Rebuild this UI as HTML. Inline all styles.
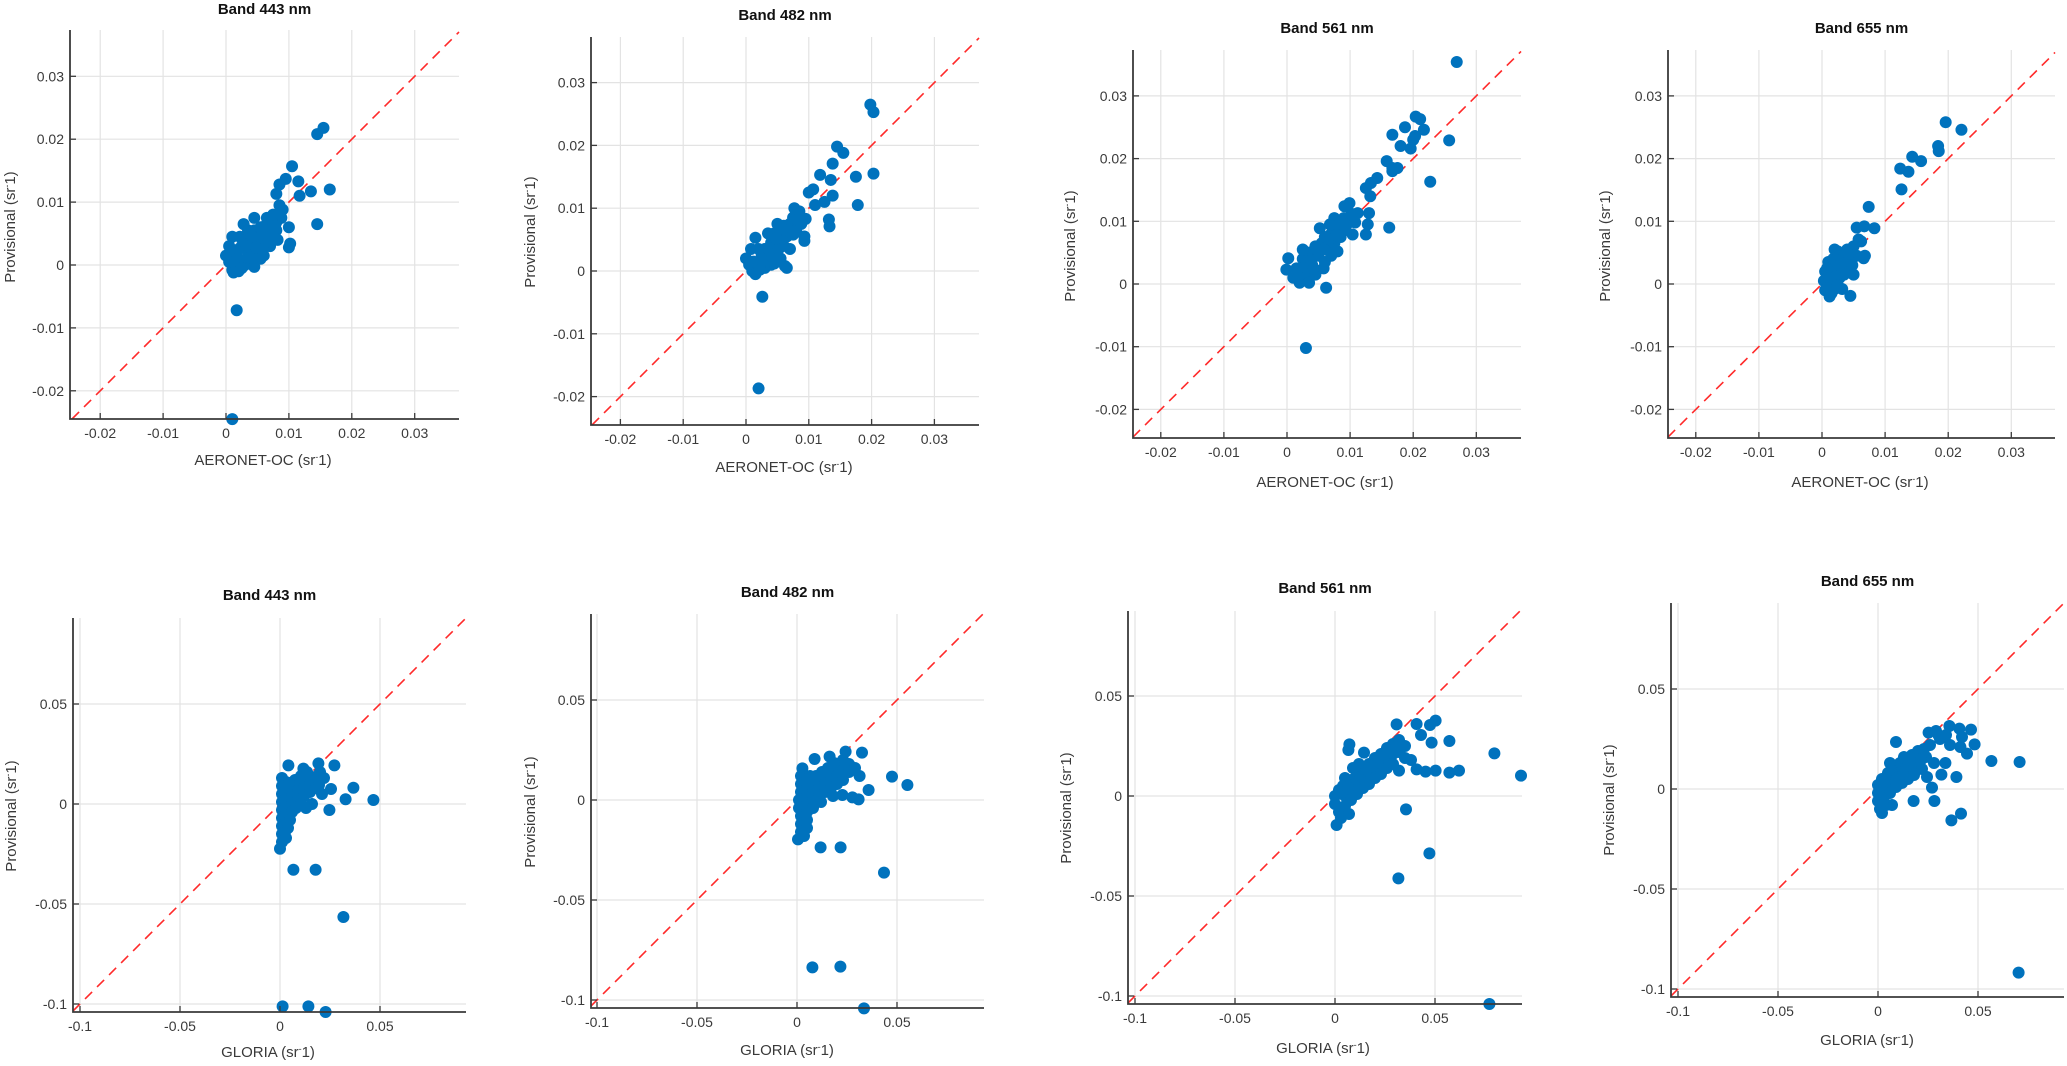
<!DOCTYPE html>
<html><head><meta charset="utf-8">
<style>
html,body{margin:0;padding:0;background:#fff;}
svg{display:block;font-family:"Liberation Sans",sans-serif;}
</style></head>
<body>
<svg id="fig" width="2067" height="1066" viewBox="0 0 2067 1066" xmlns="http://www.w3.org/2000/svg"><defs id="defs"></defs></svg>
<script>
// ---------- data ----------
const topTicks = [-0.02, -0.01, 0, 0.01, 0.02, 0.03];
const topTickLabels = ["-0.02", "-0.01", "0", "0.01", "0.02", "0.03"];
const botTicks = [-0.1, -0.05, 0, 0.05];
const botTickLabels = ["-0.1", "-0.05", "0", "0.05"];
const bandTitles = ["Band 443 nm", "Band 482 nm", "Band 561 nm", "Band 655 nm"];

const p1Points = [[0.0155,0.0218],[0.0145,0.0208],[0.0105,0.0157],[0.0095,0.0137],[0.0115,0.0133],[0.0085,0.0128],[0.0135,0.0117],[0.0165,0.012],[0.0117,0.011],[0.0145,0.0065],[0.01,0.0028],[0.0102,0.0034],[0.0017,-0.0072],[0.001,-0.0245],[0.01,0.006],[0.008,0.0113],[0.009,0.0088],
[0.000,0.0015],[0.0005,0.0005],[0.001,-0.0008],[0.0015,0.002],[0.002,-0.001],[0.002,0.001],[0.0025,0.003],[0.003,0.0],[0.003,0.0045],[0.0035,0.002],[0.004,0.0005],[0.004,0.0035],[0.0045,0.0055],[0.005,0.002],[0.005,0.0045],[0.0055,0.006],[0.006,0.0035],[0.006,0.0015],[0.0065,0.0075],[0.0065,0.005],[0.007,0.0065],[0.007,0.003],[0.0075,0.008],[0.008,0.0055],[0.008,0.0068],[0.0085,0.0095],[0.0088,0.0075],[0.0045,0.0075],[0.0028,0.0065],[0.001,0.0045],[0.0045,-0.0003],[0.0055,0.001],[0.0022,0.0045],[0.0082,0.004],[0.0005,0.003],[0.0015,0.0005],[0.0035,0.0055],[0.0052,0.0032],[0.0068,0.0058],[0.0075,0.0045],
[0.0012,-0.0012],[0.002,0.0025],[0.0025,-0.0005],[0.0032,0.0032],[0.0038,0.0012],[0.0042,0.0045],[0.0048,0.0028],[0.0058,0.0048],[0.0062,0.0062],[0.0072,0.0072],[0.0078,0.0062],[0.0085,0.0082],[0.0058,0.0025],[0.0068,0.0038]];

const p2Points = [[0.0198,0.0265],[0.0203,0.0253],[0.0145,0.0198],[0.0155,0.0188],[0.0138,0.0171],[0.0118,0.0153],[0.0135,0.0145],[0.0175,0.015],[0.0203,0.0155],[0.0178,0.0105],[0.0132,0.0082],[0.0133,0.0071],[0.0093,0.0055],[0.0093,0.0048],[0.01,0.0125],[0.0107,0.013],[0.0125,0.011],[0.0138,0.012],[0.011,0.0105],[0.0095,0.0083],[0.0077,0.01],[0.0026,-0.0041],[0.002,-0.0187],[0.0008,0.0035],[0.0015,0.0053],[0.0062,0.0008],
[0.0,0.002],[0.0005,0.001],[0.001,0.0],[0.0015,-0.0005],[0.002,0.001],[0.0025,0.0025],[0.003,0.0005],[0.003,0.0035],[0.0035,0.002],[0.004,0.0045],[0.004,0.001],[0.0045,0.003],[0.0045,0.006],[0.005,0.0045],[0.005,0.0075],[0.0055,0.002],[0.0055,0.006],[0.006,0.004],[0.006,0.0072],[0.0065,0.0055],[0.007,0.0075],[0.007,0.0035],[0.0075,0.0085],[0.008,0.0065],[0.0085,0.0095],[0.0035,0.006],[0.002,0.0035],[0.0065,0.0005],[0.0045,0.0012],[0.0088,0.0075],
[0.0012,0.0015],[0.0022,0.0002],[0.0028,0.0018],[0.0038,0.0032],[0.0042,0.0022],[0.0052,0.0035],[0.0058,0.0048],[0.0068,0.0065],[0.0075,0.0058],[0.0082,0.0082],[0.0048,0.0052]];

const p3Points = [[0.0269,0.0354],[0.0204,0.0267],[0.0211,0.0263],[0.0187,0.025],[0.0217,0.0246],[0.0167,0.0238],[0.0203,0.0236],[0.02,0.023],[0.018,0.022],[0.0196,0.0216],[0.0257,0.0229],[0.0227,0.0163],[0.0158,0.0196],[0.0167,0.0185],[0.0175,0.0185],[0.0167,0.018],[0.0143,0.0169],[0.0133,0.0161],[0.0125,0.0153],[0.0132,0.014],[0.013,0.0113],[0.0162,0.009],[0.0099,0.0129],[0.0091,0.0124],[0.0112,0.0113],[0.0128,0.0095],[0.0125,0.0079],[0.0104,0.0079],[0.0075,0.0105],[0.0052,0.0089],[0.0062,-0.0006],[0.0002,0.0041],[-0.0001,0.0023],[0.003,-0.0102],
[0.001,0.001],[0.0015,0.0025],[0.002,0.0002],[0.0025,0.004],[0.003,0.0015],[0.0035,0.005],[0.0035,0.0002],[0.004,0.003],[0.0045,0.006],[0.005,0.0045],[0.0055,0.0065],[0.006,0.0035],[0.006,0.0075],[0.0065,0.006],[0.007,0.008],[0.007,0.0045],[0.0075,0.0065],[0.008,0.009],[0.008,0.0052],[0.0085,0.0075],[0.009,0.0105],[0.009,0.0085],[0.0095,0.0095],[0.0025,0.0055],[0.0058,0.0025],[0.0045,0.0015],[0.0068,0.0095],
[0.0018,0.0012],[0.0028,0.0028],[0.0038,0.0038],[0.0048,0.0055],[0.0058,0.0055],[0.0068,0.0072],[0.0078,0.0078],[0.0088,0.0095],[0.0102,0.0112],[0.0108,0.0098],[0.0042,0.0025]];

const p4Points = [[0.0196,0.0258],[0.0221,0.0246],[0.0184,0.022],[0.0185,0.0212],[0.0143,0.0203],[0.0157,0.0196],[0.0124,0.0184],[0.0137,0.0179],[0.0126,0.0151],[0.0074,0.0123],[0.0055,0.009],[0.0067,0.0092],[0.0083,0.0089],[0.0045,-0.0019],[0.0066,0.0041],[0.0058,0.0071],
[0.0003,0.0005],[0.0005,0.002],[0.0005,-0.001],[0.001,0.0035],[0.001,0.0],[0.0012,-0.002],[0.0015,0.0015],[0.0018,0.004],[0.002,-0.0008],[0.0022,0.0025],[0.0025,0.0052],[0.0028,0.001],[0.003,0.0035],[0.0035,0.0045],[0.0035,0.0015],[0.004,0.0055],[0.004,0.0025],[0.0045,0.004],[0.005,0.006],[0.005,0.0015],[0.0055,0.0045],[0.0015,-0.0015],[0.0008,0.0025],[0.002,0.0055],[0.0032,-0.0008],
[0.0012,0.001],[0.0022,0.0012],[0.0028,0.003],[0.0038,0.0035],[0.0042,0.0048],[0.0048,0.003],[0.0025,-0.0002],[0.0062,0.0068],[0.0068,0.0045]];

const p5Points = [[0.0467,0.002],[0.0367,0.0081],[0.0328,0.0024],[0.0272,0.0193],[0.0255,0.0075],[0.0247,-0.003],[0.0192,0.0203],[0.0042,0.0193],[0.0117,0.0177],[0.0067,-0.0329],[0.0178,-0.0329],[0.0317,-0.0565],[0.0013,-0.1012],[0.0142,-0.1012],[0.0228,-0.104],[0.0,-0.0224],
[0.001,0.013],[0.001,0.009],[0.001,0.005],[0.001,0.001],[0.001,-0.003],[0.001,-0.007],[0.001,-0.011],[0.001,-0.015],[0.001,-0.019],[0.003,-0.017],[0.003,-0.013],[0.003,-0.009],[0.003,-0.005],[0.003,-0.001],[0.003,0.003],[0.003,0.007],[0.003,0.011],[0.006,0.0],[0.006,0.004],[0.006,0.008],[0.006,-0.004],[0.009,0.002],[0.009,0.006],[0.009,0.01],[0.012,0.004],[0.012,0.008],[0.012,0.012],[0.015,0.006],[0.015,0.01],[0.015,0.014],[0.018,0.008],[0.018,0.012],[0.02,0.016],[0.021,0.005],[0.016,0.0],[0.013,-0.002],[0.008,-0.002],[0.005,-0.008],[0.022,0.013],
[0.0075,0.012],[0.0105,0.014],[0.0135,0.016],[0.0045,0.0105],[0.0105,0.0],[0.0195,0.0095],[0.004,-0.012]];

const p6Points = [[0.0325,0.0237],[0.0243,0.0242],[0.0088,0.0205],[0.0163,0.0217],[0.0313,0.012],[0.0475,0.0117],[0.0552,0.0075],[0.0358,0.005],[0.0308,0.0003],[0.0277,0.0013],[0.0227,0.0025],[0.0027,0.0158],[0.0118,-0.0237],[0.0218,-0.0237],[0.0435,-0.0363],[0.0077,-0.0837],[0.0217,-0.0833],[0.0335,-0.1042],[0.0005,-0.0197],
[0.002,0.012],[0.002,0.008],[0.002,0.004],[0.001,0.0],[0.001,-0.004],[0.002,-0.008],[0.002,-0.012],[0.002,-0.016],[0.005,-0.014],[0.005,-0.01],[0.005,-0.006],[0.005,-0.002],[0.005,0.002],[0.005,0.006],[0.005,0.01],[0.008,0.0],[0.008,0.004],[0.008,0.008],[0.008,-0.004],[0.011,0.002],[0.011,0.006],[0.011,0.01],[0.014,0.004],[0.014,0.008],[0.014,0.012],[0.017,0.006],[0.017,0.01],[0.017,0.014],[0.02,0.008],[0.02,0.012],[0.02,0.017],[0.023,0.01],[0.023,0.015],[0.023,0.02],[0.026,0.014],[0.026,0.018],[0.029,0.016],[0.012,-0.001],[0.018,0.002],
[0.0095,0.012],[0.0125,0.014],[0.0065,0.012],[0.0155,0.016],[0.0185,0.0185],[0.0035,-0.018]];

const p7Points = [[0.093,0.0102],[0.0797,0.0213],[0.0572,0.0275],[0.062,0.0127],[0.0572,0.0117],[0.0503,0.0127],[0.0453,0.0122],[0.0408,0.0133],[0.0503,0.0377],[0.0475,0.0355],[0.0408,0.036],[0.0308,0.0358],[0.043,0.0305],[0.0483,0.0267],[0.032,0.0127],[0.0072,0.0258],[0.0067,0.023],[0.0145,0.0217],[0.0355,-0.0067],[0.0472,-0.0287],[0.0317,-0.0412],[0.0772,-0.104],[0.0008,-0.0145],
[0.0,0.0],[0.0,-0.004],[0.002,-0.008],[0.002,0.003],[0.003,-0.011],[0.004,0.005],[0.005,0.0],[0.005,-0.005],[0.007,-0.009],[0.008,0.008],[0.008,0.003],[0.008,-0.002],[0.011,0.011],[0.011,0.006],[0.011,0.001],[0.014,0.014],[0.014,0.009],[0.014,0.004],[0.017,0.016],[0.017,0.011],[0.017,0.006],[0.02,0.019],[0.02,0.014],[0.02,0.009],[0.023,0.021],[0.023,0.016],[0.023,0.011],[0.026,0.024],[0.026,0.019],[0.026,0.014],[0.029,0.026],[0.029,0.021],[0.029,0.016],[0.032,0.028],[0.032,0.022],[0.035,0.025],[0.035,0.019],[0.038,0.018],[0.012,0.016],[0.009,0.014],[0.005,0.009],
[0.0155,0.0125],[0.0185,0.0165],[0.0215,0.0175],[0.0245,0.0215],[0.0275,0.0235],[0.0305,0.0245],[0.0125,0.0085],[0.0095,0.0055],[0.0065,0.0045]];

const p8Points = [[0.0703,-0.0918],[0.0708,0.0135],[0.0567,0.014],[0.0483,0.0223],[0.0465,0.0297],[0.0407,0.0302],[0.0357,0.0315],[0.0303,0.0268],[0.0253,0.0282],[0.0445,0.0177],[0.0412,0.021],[0.0337,0.013],[0.0317,0.0072],[0.0392,0.006],[0.027,0.0007],[0.0282,-0.006],[0.0178,-0.006],[0.0415,-0.0123],[0.0367,-0.0157],[0.009,0.0235],[0.0245,0.006],
[0.0,0.002],[0.0,-0.002],[0.0,-0.006],[0.001,-0.01],[0.002,-0.012],[0.002,0.005],[0.003,0.0],[0.003,-0.004],[0.004,-0.008],[0.005,0.008],[0.005,0.003],[0.006,-0.002],[0.007,-0.008],[0.008,0.011],[0.008,0.006],[0.009,0.001],[0.011,0.013],[0.011,0.008],[0.012,0.003],[0.014,0.015],[0.014,0.01],[0.015,0.005],[0.017,0.017],[0.017,0.012],[0.018,0.007],[0.02,0.019],[0.02,0.014],[0.022,0.01],[0.023,0.02],[0.024,0.016],[0.026,0.022],[0.028,0.013],[0.031,0.025],[0.034,0.027],[0.036,0.022],[0.042,0.026],[0.013,0.016],[0.006,0.013],
[0.0035,0.0045],[0.0065,0.0095],[0.0095,0.0055],[0.0125,0.0075],[0.0155,0.0125],[0.0185,0.0155],[0.0215,0.0145],[0.0025,-0.008],[0.029,0.029]];

// ---------- layout (pixel geometry, not data) ----------
const panels = [
 {pts:p1Points,title:0,row:0,L:70,R:459,T:30,B:419,x0:226,y0:265,kx:6290,ky:6290,tt:8,xl:[263,460],yl:[10,227]},
 {pts:p2Points,title:1,row:0,L:591,R:979,T:37,B:425,x0:746,y0:271,kx:6280,ky:6280,tt:14,xl:[784,467],yl:[530,232]},
 {pts:p3Points,title:2,row:0,L:1133,R:1521,T:50,B:438,x0:1287,y0:284,kx:6310,ky:6270,tt:27,xl:[1325,482],yl:[1070,246]},
 {pts:p4Points,title:3,row:0,L:1668,R:2055,T:50,B:438,x0:1822,y0:284,kx:6310,ky:6270,tt:27,xl:[1860,482],yl:[1605,246]},
 {pts:p5Points,title:0,row:1,L:73,R:466,T:618,B:1012,x0:280,y0:804,kx:2000,ky:2000,tt:594,xl:[268,1052],yl:[11,816]},
 {pts:p6Points,title:1,row:1,L:591,R:984,T:614,B:1008,x0:797,y0:800,kx:2000,ky:2000,tt:591,xl:[787,1050],yl:[530,812]},
 {pts:p7Points,title:2,row:1,L:1128,R:1522,T:611,B:1004,x0:1335,y0:796,kx:2000,ky:2000,tt:587,xl:[1323,1048],yl:[1066,808]},
 {pts:p8Points,title:3,row:1,L:1671,R:2064,T:603,B:997,x0:1878,y0:789,kx:2000,ky:2000,tt:580,xl:[1867,1040],yl:[1609,800]}
];

const NS = "http://www.w3.org/2000/svg";
const svg = document.getElementById("fig");
const defs = document.getElementById("defs");
function mk(tag, attrs, parent){
  const e = document.createElementNS(NS, tag);
  for (const k in attrs) e.setAttribute(k, attrs[k]);
  (parent||svg).appendChild(e);
  return e;
}

panels.forEach((p, i) => {
  const sx = v => p.x0 + v * p.kx;
  const sy = v => p.y0 - v * p.ky;
  const ticks = p.row === 0 ? topTicks : botTicks;
  const labels = p.row === 0 ? topTickLabels : botTickLabels;
  const g = mk("g", {});
  
  

  // grid
  ticks.forEach((t) => {
    const gx = mk("line", {x1:sx(t), x2:sx(t), y1:p.T, y2:p.B, stroke:"#e3e3e3", "stroke-width":1.2}, g);
    
    
    const gy = mk("line", {x1:p.L, x2:p.R, y1:sy(t), y2:sy(t), stroke:"#e3e3e3", "stroke-width":1.2}, g);
    
    
  });

  // 1:1 line
  const lo = Math.max((p.L - p.x0)/p.kx, (p.y0 - p.B)/p.ky);
  const hi = Math.min((p.R - p.x0)/p.kx, (p.y0 - p.T)/p.ky);
  const ref = mk("line", {x1:sx(lo), y1:sy(lo), x2:sx(hi), y2:sy(hi), stroke:"#ff2a2a", "stroke-width":1.6, "stroke-dasharray":"10 7"}, g);
  
  

  // points
  const pg = mk("g", {fill:"#0072BD"}, g);
  
  
  p.pts.forEach(([x, y]) => {
    const c = mk("circle", {cx:sx(x), cy:sy(y), r:6}, pg);
    
    
  });

  // axes
  const ax = mk("path", {d:`M${p.L},${p.T} L${p.L},${p.B} L${p.R},${p.B}`, fill:"none", stroke:"#3a3a3a", "stroke-width":1.8}, g);
  
  

  ticks.forEach((t, j) => {
    mk("line", {x1:p.L, x2:p.L+6, y1:sy(t), y2:sy(t), stroke:"#3a3a3a", "stroke-width":1.3}, g);
    mk("line", {x1:sx(t), x2:sx(t), y1:p.B, y2:p.B-6, stroke:"#3a3a3a", "stroke-width":1.3}, g);
    const yt = mk("text", {x:p.L-6, y:sy(t)+5, "text-anchor":"end", "font-size":14, fill:"#3a3a3a"}, g);
    yt.textContent = labels[j];
    
    
    const xt = mk("text", {x:sx(t), y:p.B+19, "text-anchor":"middle", "font-size":14, fill:"#3a3a3a"}, g);
    xt.textContent = labels[j];
    
    
  });

  const title = mk("text", {x:(p.L+p.R)/2, y:p.tt+6, "text-anchor":"middle", "font-size":15, "font-weight":"bold", fill:"#111"}, g);
  title.textContent = bandTitles[p.title];
  
  

  const xl = mk("text", {x:p.xl[0], y:p.xl[1]+5, "text-anchor":"middle", "font-size":15, fill:"#3a3a3a"}, g);
  xl.innerHTML = (p.row === 0 ? "AERONET-OC" : "GLORIA") + " (sr<tspan dy='-5' font-size='9'>-</tspan><tspan dy='5'>1)</tspan>";
  
  

  const yl = mk("text", {x:0, y:0, transform:`translate(${p.yl[0]+5},${p.yl[1]}) rotate(-90)`, "text-anchor":"middle", "font-size":15, fill:"#3a3a3a"}, g);
  yl.innerHTML = "Provisional (sr<tspan dy='-5' font-size='9'>-</tspan><tspan dy='5'>1)</tspan>";
  
  
});
</script>
</body></html>
